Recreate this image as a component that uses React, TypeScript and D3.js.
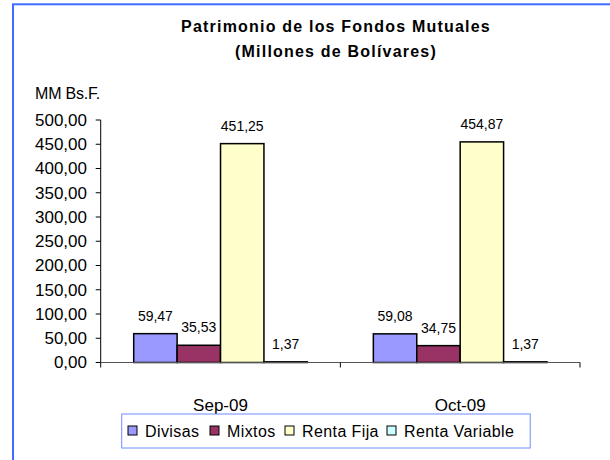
import React from "react";
import * as d3 from "d3";

const months = ["Sep-09", "Oct-09"];
const seriesNames = ["Divisas", "Mixtos", "Renta Fija", "Renta Variable"];
const seriesColors = ["#9999FF", "#993366", "#FFFFCC", "#CCFFFF"];
const divisas = [59.47, 59.08];
const mixtos = [35.53, 34.75];
const rentaFija = [451.25, 454.87];
const rentaVariable = [1.37, 1.37];
const yTicks = [0, 50, 100, 150, 200, 250, 300, 350, 400, 450, 500];

const fmt = (v: number) => v.toFixed(2).replace(".", ",");

export default function App() {
  const values = [divisas, mixtos, rentaFija, rentaVariable];
  const left = 100.7, right = 580, top = 120, bottom = 362.5;

  const x = d3.scaleBand<string>().domain(months).range([left, right]).padding(0);
  const inner = d3
    .scaleBand<string>()
    .domain(seriesNames)
    .range([33, x.bandwidth() - 33])
    .padding(0);
  const y = d3.scaleLinear().domain([0, 500]).range([bottom, top]);

  const font = "'Liberation Sans', Arial, sans-serif";

  // legend layout
  const legendX = [128, 210, 285, 387];

  return (
    <svg
      width={610}
      height={460}
      style={{ position: "absolute", left: 0, top: 0, background: "#fff" }}
      fontFamily={font}
    >
      <rect x={0} y={0} width={610} height={460} fill="#fff" />
      <rect x={13} y={4.3} width={700} height={500} fill="none" stroke="#3f6bff" strokeWidth={2} />

      <text x={336} y={32} textAnchor="middle" fontSize={16} fontWeight="bold" letterSpacing={1.2}>
        Patrimonio de los Fondos Mutuales
      </text>
      <text x={336} y={57} textAnchor="middle" fontSize={16} fontWeight="bold" letterSpacing={1.2}>
        (Millones de Bolívares)
      </text>

      <text x={35} y={99} fontSize={16} letterSpacing={-0.2}>
        MM Bs.F.
      </text>

      {/* y axis */}
      <line x1={left} x2={left} y1={y(500)} y2={y(0)} stroke="#000" />
      {yTicks.map((t) => (
        <g key={t}>
          <line x1={left - 5} x2={left} y1={y(t)} y2={y(t)} stroke="#000" />
          <text x={87} y={y(t)} dy="0.35em" textAnchor="end" fontSize={17}>
            {fmt(t)}
          </text>
        </g>
      ))}

      {/* bars */}
      {months.map((m, i) => (
        <g key={m}>
          {seriesNames.map((s, j) => {
            const v = values[j][i];
            const bx = (x(m) as number) + (inner(s) as number);
            return (
              <g key={s}>
                <rect
                  x={bx}
                  y={y(v)}
                  width={inner.bandwidth()}
                  height={y(0) - y(v)}
                  fill={seriesColors[j]}
                  stroke="#000"
                  strokeWidth={1.5}
                />
                <text
                  x={bx + inner.bandwidth() / 2}
                  y={y(v) - 13}
                  textAnchor="middle"
                  fontSize={14}
                >
                  {fmt(v)}
                </text>
              </g>
            );
          })}
        </g>
      ))}

      {/* x axis */}
      <line x1={left} x2={right} y1={y(0)} y2={y(0)} stroke="#555" strokeWidth={1.2} />
      {[left, left + x.bandwidth(), right].map((tx, i) => (
        <line key={i} x1={tx} x2={tx} y1={y(0)} y2={y(0) + 5} stroke="#000" />
      ))}
      {months.map((m) => (
        <text
          key={m}
          x={(x(m) as number) + x.bandwidth() / 2}
          y={405}
          dy="0.35em"
          textAnchor="middle"
          fontSize={17}
        >
          {m}
        </text>
      ))}

      {/* legend */}
      <rect x={121.7} y={414} width={408.5} height={34} fill="#fff" stroke="#6f8cff" strokeWidth={1} />
      {seriesNames.map((s, j) => (
        <g key={s}>
          <rect x={legendX[j]} y={426} width={9} height={9} fill={seriesColors[j]} stroke="#000" strokeWidth={1} />
          <text x={legendX[j] + 17} y={431} dy="0.35em" fontSize={16} letterSpacing={0.4}>
            {s}
          </text>
        </g>
      ))}
    </svg>
  );
}
